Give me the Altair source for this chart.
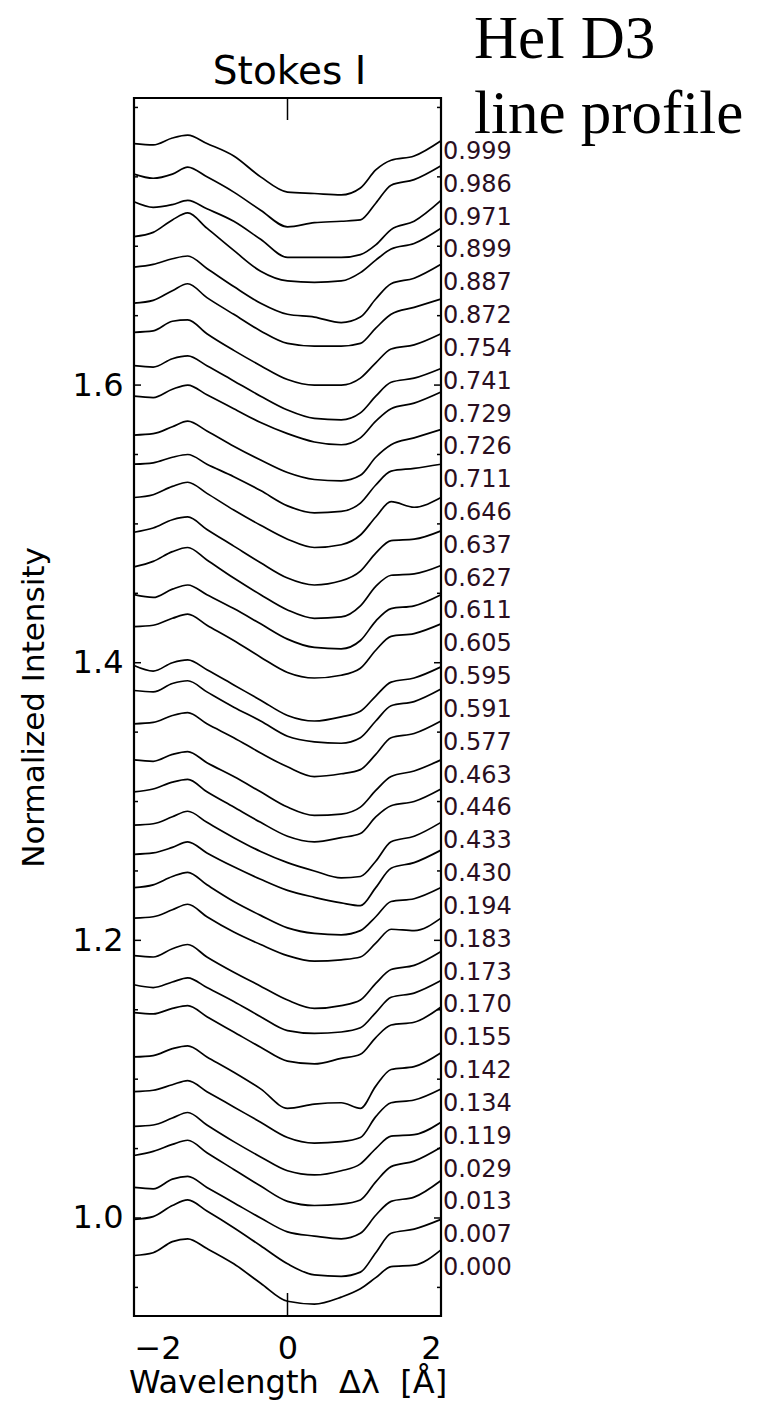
import altair as alt
import pandas as pd

# wavelength grid (Angstrom offset from line centre)
wavelength = [-2.0, -1.75, -1.5, -1.3, -1.05, -0.7, -0.35, 0.0, 0.35, 0.7, 0.95, 1.15, 1.35, 1.65, 2.0]

# curve labels, top to bottom
mu_labels = ["0.999", "0.986", "0.971", "0.899", "0.887", "0.872", "0.754", "0.741", "0.729",
             "0.726", "0.711", "0.646", "0.637", "0.627", "0.611", "0.605", "0.595", "0.591",
             "0.577", "0.463", "0.446", "0.433", "0.430", "0.194", "0.183", "0.173", "0.170",
             "0.155", "0.142", "0.134", "0.119", "0.029", "0.013", "0.007", "0.000"]

# intensity of each (offset) profile at the blue edge, -2 A
continuum = [1.774, 1.752, 1.732, 1.707, 1.685, 1.659, 1.638, 1.614, 1.592, 1.564, 1.543, 1.519,
             1.494, 1.469, 1.449, 1.426, 1.398, 1.380, 1.356, 1.330, 1.307, 1.283, 1.262, 1.238,
             1.216, 1.189, 1.168, 1.148, 1.116, 1.091, 1.066, 1.045, 1.022, 0.999, 0.973]

# profile shape relative to the blue edge, in units of 1e-3 intensity
p01 = [0, -1, 4, 6, 0, -9, -24, -35, -36, -37, -32, -19, -12, -9, 2]
p02 = [0, -3, 0, 5, -2, -13, -26, -38, -35, -34, -33, -21, -8, -4, 6]
p03 = [0, -4, -2, 1, -5, -14, -27, -40, -40, -40, -38, -31, -20, -14, 1]
p04 = [0, 3, 12, 17, 6, -10, -25, -32, -33, -32, -26, -17, -9, -5, 6]
p05 = [0, 2, 6, 8, -1, -14, -26, -34, -36, -40, -36, -23, -12, -8, 2]
p06 = [0, 2, 9, 14, 4, -8, -20, -29, -31, -31, -29, -18, -8, -3, 3]
p07 = [0, 1, 8, 9, -1, -13, -24, -34, -38, -38, -33, -22, -12, -9, -1]
p08 = [0, -1, 5, 7, 0, -11, -22, -32, -38, -39, -34, -22, -12, -9, -2]
p09 = [0, -1, 5, 8, 1, -9, -19, -27, -33, -35, -30, -18, -9, -5, 3]
p10 = [0, 1, 6, 10, 3, -8, -18, -27, -32, -33, -29, -16, -7, -2, 4]
p11 = [0, 1, 5, 7, 0, -9, -19, -30, -35, -34, -28, -15, -5, -3, 0]
p12 = [0, 2, 8, 11, 3, -9, -20, -30, -36, -34, -27, -14, -3, -7, 0]
p13 = [0, 3, 9, 11, 2, -10, -22, -33, -38, -35, -28, -15, -6, -5, 1]
p14 = [0, 4, 11, 14, 5, -8, -20, -31, -37, -36, -28, -14, -6, -5, 1]
p15 = [0, -2, 4, 7, 0, -10, -21, -32, -38, -39, -33, -19, -10, -8, 0]
p16 = [0, 1, 6, 9, 1, -10, -22, -33, -37, -35, -30, -17, -7, -5, 2]
p17 = [0, -4, 2, 4, -3, -14, -25, -36, -40, -37, -33, -22, -12, -9, -1]
p18 = [0, -1, 5, 7, -1, -12, -22, -33, -37, -38, -34, -22, -11, -8, 1]
p19 = [0, 1, 6, 8, 0, -10, -21, -31, -38, -36, -33, -22, -10, -7, 2]
p20 = [0, -1, 4, 6, -2, -12, -23, -34, -40, -39, -34, -22, -12, -8, 0]
p21 = [0, 2, 7, 9, 0, -11, -22, -32, -36, -33, -30, -18, -10, -7, 2]
p22 = [0, 1, 6, 10, 2, -9, -19, -27, -33, -38, -37, -26, -12, -8, 2]
p23 = [0, 1, 5, 9, 1, -9, -18, -26, -31, -35, -37, -24, -10, -6, 3]
p24 = [0, 2, 8, 11, 2, -10, -20, -29, -33, -34, -31, -21, -10, -8, 0]
p25 = [0, 1, 6, 10, 1, -10, -19, -27, -31, -30, -28, -18, -8, -9, 0]
p26 = [0, -1, 5, 8, -1, -12, -22, -32, -38, -36, -32, -20, -10, -7, 3]
p27 = [0, -2, 2, 5, -2, -12, -23, -33, -35, -34, -31, -20, -9, -6, 3]
p28 = [0, -1, 3, 5, -3, -14, -25, -35, -37, -33, -30, -18, -9, -7, 4]
p29 = [0, 1, 6, 8, 0, -11, -23, -37, -34, -33, -37, -21, -9, -7, 3]
p30 = [0, 1, 5, 8, 0, -11, -22, -33, -37, -36, -33, -18, -8, -6, 2]
p31 = [0, 1, 6, 10, 1, -11, -22, -32, -35, -32, -27, -16, -7, -6, 3]
p32 = [0, 3, 8, 11, 2, -10, -22, -33, -36, -35, -32, -19, -8, -4, 6]
p33 = [0, -1, 6, 8, 0, -11, -22, -32, -35, -37, -33, -20, -10, -7, 5]
p34 = [0, 2, 10, 14, 6, -6, -19, -32, -40, -41, -38, -24, -10, -7, 0]
p35 = [0, 2, 10, 12, 5, -6, -20, -33, -35, -30, -24, -16, -8, -7, 4]

profiles = [p01, p02, p03, p04, p05, p06, p07, p08, p09, p10, p11, p12, p13, p14, p15, p16, p17,
            p18, p19, p20, p21, p22, p23, p24, p25, p26, p27, p28, p29, p30, p31, p32, p33, p34, p35]

# label anchor levels (evenly stacked down the right edge)
label_top = 1.768
label_step = 0.02365

y_major = [1.0, 1.2, 1.4, 1.6]
y_minor = [0.95, 1.05, 1.1, 1.15, 1.25, 1.3, 1.35, 1.45, 1.5, 1.55, 1.65, 1.7, 1.75, 1.8]
x_ticks = [0.0]

rows = []
for i, (lab, base, prof) in enumerate(zip(mu_labels, continuum, profiles)):
    for x, d in zip(wavelength, prof):
        rows.append({"curve": i, "label": lab, "wl": x, "I": base + d / 1000.0})
df = pd.DataFrame(rows)

lab_df = pd.DataFrame({"label": mu_labels,
                       "ly": [label_top - label_step * i for i in range(len(mu_labels))]})

W, H = 307, 1218
xs = alt.Scale(domain=[-2, 2], nice=False, zero=False)
ys = alt.Scale(domain=[0.9294, 1.8068], nice=False, zero=False)

FONT = "DejaVu Sans"
NB = "\u00a0"

lines = alt.Chart(df).mark_line(color="black", strokeWidth=1.7, interpolate="monotone").encode(
    x=alt.X("wl:Q", scale=xs,
            axis=alt.Axis(values=[-2, 0, 2], format="d", ticks=False, domain=False, grid=False,
                          labelFont=FONT, labelFontSize=32, labelColor="black", labelPadding=17,
                          title="Wavelength" + NB + NB + "Δλ" + NB + NB + "[Å]",
                          titleFont=FONT, titleFontSize=32,
                          titleFontWeight="normal", titleColor="black", titlePadding=3)),
    y=alt.Y("I:Q", scale=ys,
            axis=alt.Axis(values=y_major, format=".1f", ticks=False, domain=False, grid=False,
                          labelFont=FONT, labelFontSize=32, labelColor="black", labelPadding=11,
                          title="Normalized Intensity", titleFont=FONT, titleFontSize=31,
                          titleFontWeight="normal", titleColor="black", titlePadding=22)),
    detail="curve:N",
)

labels = alt.Chart(lab_df).mark_text(align="left", baseline="middle", font=FONT, fontSize=24,
                                     color="#2a0f1f").encode(
    x=alt.value(W + 2),
    y=alt.Y("ly:Q", scale=ys),
    text="label:N",
)

maj_df = pd.DataFrame({"v": y_major})
min_df = pd.DataFrame({"v": y_minor})
xt_df = pd.DataFrame({"v": x_ticks})

maj_l = alt.Chart(maj_df).mark_rule(color="black", strokeWidth=1.5).encode(
    y=alt.Y("v:Q", scale=ys), x=alt.value(0), x2=alt.value(7))
maj_r = alt.Chart(maj_df).mark_rule(color="black", strokeWidth=1.5).encode(
    y=alt.Y("v:Q", scale=ys), x=alt.value(W - 7), x2=alt.value(W))
min_l = alt.Chart(min_df).mark_rule(color="black", strokeWidth=1.5).encode(
    y=alt.Y("v:Q", scale=ys), x=alt.value(0), x2=alt.value(4))
min_r = alt.Chart(min_df).mark_rule(color="black", strokeWidth=1.5).encode(
    y=alt.Y("v:Q", scale=ys), x=alt.value(W - 4), x2=alt.value(W))
xt_top = alt.Chart(xt_df).mark_rule(color="black", strokeWidth=1.5).encode(
    x=alt.X("v:Q", scale=xs), y=alt.value(0), y2=alt.value(22))
xt_bot = alt.Chart(xt_df).mark_rule(color="black", strokeWidth=1.5).encode(
    x=alt.X("v:Q", scale=xs), y=alt.value(H - 23), y2=alt.value(H))

one = alt.Data(values=[{"a": 1}])
title_stokes = alt.Chart(one).mark_text(font=FONT, fontSize=39, align="center",
                                        baseline="alphabetic", color="black").encode(
    x=alt.value(W / 2 + 2), y=alt.value(-14), text=alt.value("Stokes I"))
title_he1 = alt.Chart(one).mark_text(font="Liberation Serif", fontSize=61, align="left",
                                     baseline="alphabetic", color="black").encode(
    x=alt.value(340), y=alt.value(-40), text=alt.value("HeI D3"))
title_he2 = alt.Chart(one).mark_text(font="Liberation Serif", fontSize=61, align="left",
                                     baseline="alphabetic", color="black").encode(
    x=alt.value(340), y=alt.value(35), text=alt.value("line profile"))

chart = alt.layer(lines, labels, maj_l, maj_r, min_l, min_r, xt_top, xt_bot,
                  title_stokes, title_he1, title_he2).properties(
    width=W, height=H,
    padding={"left": 126, "top": 90, "right": 312, "bottom": 86},
    autosize=alt.AutoSizeParams(type="none"),
).configure(background="white").configure_view(stroke="black", strokeWidth=2.2)

chart.save("out.html", embed_options={"renderer": "svg", "actions": False})
